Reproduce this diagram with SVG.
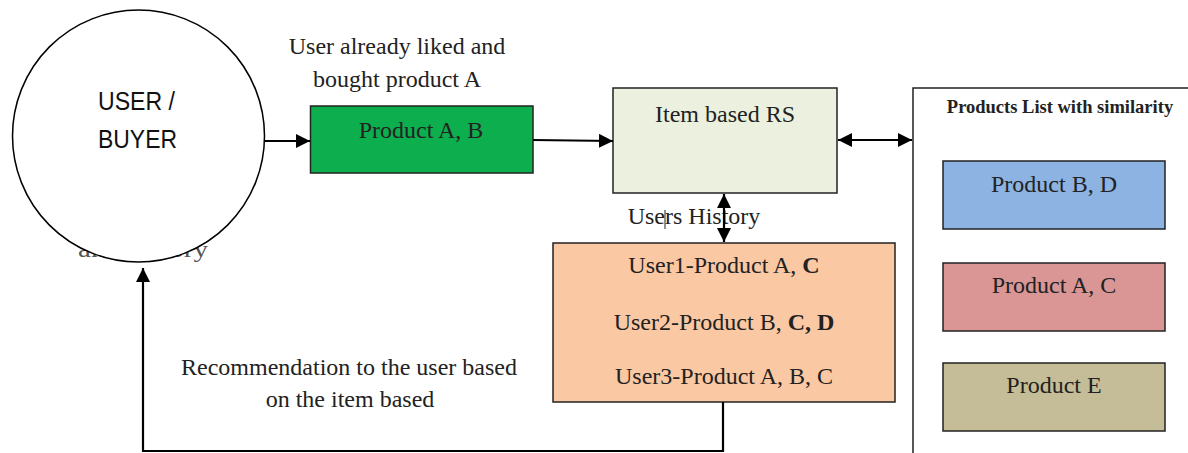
<svg xmlns="http://www.w3.org/2000/svg" width="1188" height="453" viewBox="0 0 1188 453">
<style>
.t{font-family:"Liberation Serif","Times New Roman",serif;font-size:24px;fill:#222;text-anchor:middle}
.b{font-weight:bold}
.s{font-family:"Liberation Sans",Arial,sans-serif;font-size:25px;fill:#111}
.box{stroke:#222;stroke-width:1.5}
.con{stroke:#000;stroke-width:2.2;fill:none}
</style>
<defs>
<marker id="ah" viewBox="0 0 14 14" refX="14" refY="7" markerWidth="14" markerHeight="14" markerUnits="userSpaceOnUse" orient="auto-start-reverse">
<path d="M0,0 L14,7 L0,14 z" fill="#000"/>
</marker>
</defs>
<rect width="1188" height="453" fill="#fff"/>
<text class="t" x="78" y="257" textLength="130" lengthAdjust="spacingAndGlyphs" style="text-anchor:start;fill:#555">and history</text>
<g id="user">
<circle cx="138.5" cy="136" r="126" fill="#fff" stroke="#000" stroke-width="1.5"/>
<text class="s" x="98" y="110" textLength="77" lengthAdjust="spacingAndGlyphs">USER /</text>
<text class="s" x="98" y="148" textLength="79" lengthAdjust="spacingAndGlyphs">BUYER</text>
</g>
<g id="label-liked">
<text class="t" x="397" y="54">User already liked and</text>
<text class="t" x="397" y="87">bought product A</text>
</g>
<g id="productAB">
<rect class="box" x="310.5" y="106" width="222.5" height="67" fill="#0DAE4E"/>
<text class="t" x="421" y="138">Product A, B</text>
</g>
<g id="itemrs">
<rect class="box" x="613" y="88" width="224" height="105" fill="#EBF1DE"/>
<text class="t" x="725" y="122">Item based RS</text>
</g>
<g id="productslist">
<path d="M913,453 V88 H1188" fill="none" stroke="#222" stroke-width="1.5"/>
<text class="t b" x="1060" y="113" style="font-size:18.5px">Products List with similarity</text>
</g>
<g id="productBD">
<rect class="box" x="943" y="161" width="222" height="68" fill="#8DB3E2"/>
<text class="t" x="1054" y="192">Product B, D</text>
</g>
<g id="productAC">
<rect class="box" x="943" y="263" width="222" height="68" fill="#D99694"/>
<text class="t" x="1054" y="293">Product A, C</text>
</g>
<g id="productE">
<rect class="box" x="943" y="363" width="222" height="68" fill="#C4BD97"/>
<text class="t" x="1054" y="393">Product E</text>
</g>
<g id="history">
<rect class="box" x="553" y="243" width="342" height="159" fill="#FAC8A2"/>
<text class="t" x="724" y="273">User1-Product A, <tspan class="b">C</tspan></text>
<text class="t" x="724" y="330">User2-Product B, <tspan class="b">C, D</tspan></text>
<text class="t" x="724" y="384">User3-Product A, B, C</text>
</g>
<g id="label-history">
<text class="t" x="694" y="224">Users History</text>
<line x1="665" y1="210" x2="665" y2="229" stroke="#222" stroke-width="1"/>
</g>
<g id="label-rec">
<text class="t" x="349" y="375">Recommendation to the user based</text>
<text class="t" x="350" y="407">on the item based</text>
</g>
<g id="connectors">
<line class="con" x1="265" y1="141" x2="310" y2="141" marker-end="url(#ah)"/>
<line class="con" x1="533" y1="140" x2="613" y2="141" marker-end="url(#ah)"/>
<line class="con" x1="838" y1="140" x2="912" y2="140" marker-start="url(#ah)" marker-end="url(#ah)"/>
<line class="con" x1="724" y1="194" x2="724" y2="242" marker-start="url(#ah)" marker-end="url(#ah)"/>
<path class="con" d="M723,402 V451 H143 V268" marker-end="url(#ah)"/>
</g>
</svg>
